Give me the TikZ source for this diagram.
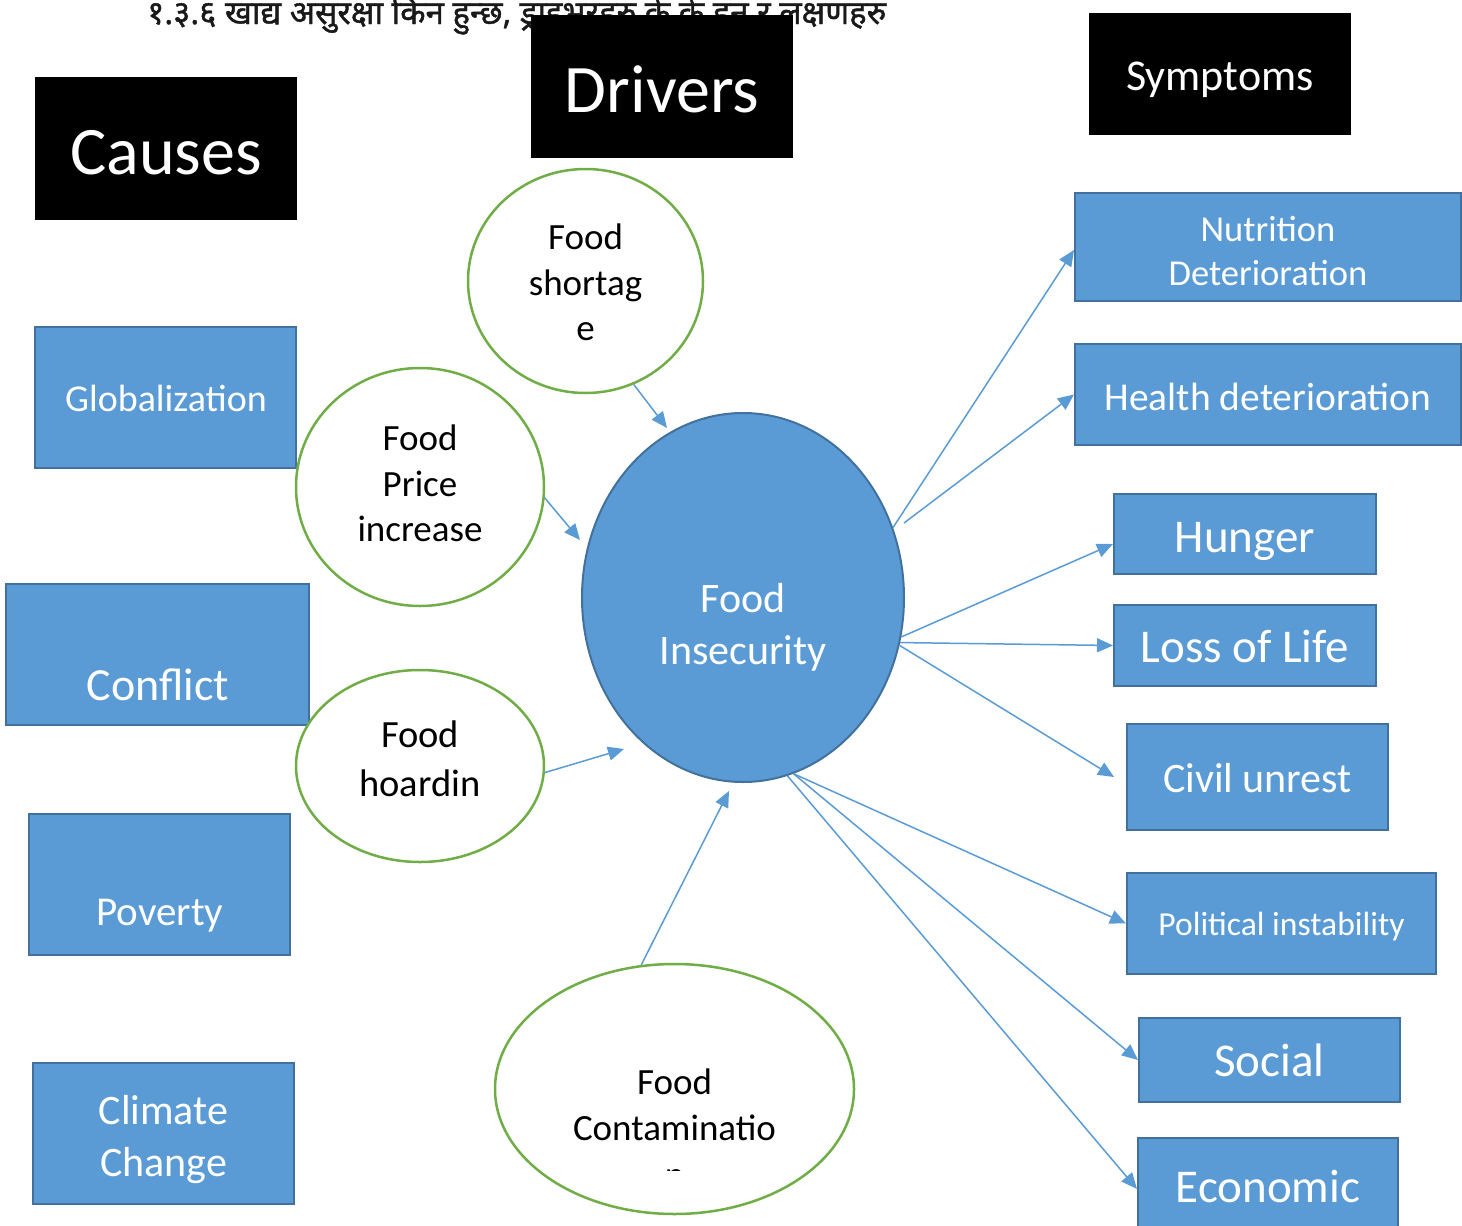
\documentclass[tikz,border=0pt]{standalone}
\usepackage{fontspec}
\setmainfont{Carlito}
\newfontfamily\devfont[Script=Devanagari,FakeBold=1.2]{Noto Sans}
\usetikzlibrary{shapes.geometric,arrows.meta}
\definecolor{cblue}{HTML}{5B9BD5}
\definecolor{cborder}{HTML}{41719C}
\definecolor{cgreen}{HTML}{70AD47}
\newcommand{\fs}[1]{\fontsize{#1}{#1}\selectfont}
\begin{document}
\begin{tikzpicture}[x=1pt,y=-1pt,
  blackbox/.style={fill=black, draw=none, inner sep=0},
  bluebox/.style={fill=cblue, draw=cborder, line width=2pt, inner sep=0},
  driver/.style={ellipse, draw=cgreen, line width=2.5pt, fill=white, inner sep=0},
  wtxt/.style={text=white, inner sep=0, anchor=base},
  btxt/.style={text=black, inner sep=0, anchor=base},
  arr/.style={draw=cblue, line width=1.5pt, -{Triangle[length=16pt,width=14pt]}},
]
\useasboundingbox (0,0) rectangle (1462,1226);

% header text (partly hidden)
\node[anchor=base west, inner sep=0, font=\devfont\fs{33}, text=black!90] (title) at (147,24)
  {१.३.६ खाद्य असुरक्षा किन हुन्छ, ड्राइभरहरु के के हुन र लक्षणहरु};

% black headers
\node[blackbox, minimum width=262pt, minimum height=143pt] (caus) at (166,148.5) {};
\node[wtxt, font=\fs{68}] (caust) at (166,174) {Causes};
\node[blackbox, minimum width=262pt, minimum height=143pt] (drv) at (662,86.5) {};
\node[wtxt, font=\fs{68}] (drvt) at (662,112) {Drivers};
\node[blackbox, minimum width=262pt, minimum height=122pt] (sym) at (1220,74) {};
\node[wtxt, font=\fs{44}] (symt) at (1220,90) {Symptoms};

% causes
\node[bluebox, minimum width=261pt, minimum height=141pt] (glob) at (165.5,397.5) {};
\node[wtxt, font=\fs{38}] (globt) at (166,411) {Globalization};
\node[bluebox, minimum width=303pt, minimum height=141pt] (conf) at (157.5,654.5) {};
\node[wtxt, font=\fs{46}] (conft) at (158,700) {Conflict};
\node[bluebox, minimum width=261pt, minimum height=141pt] (pov) at (159.5,884.5) {};
\node[wtxt, font=\fs{41}] (povt) at (160,925) {Poverty};
\node[bluebox, minimum width=261pt, minimum height=141pt] (clim) at (163.5,1133.5) {};
\node[wtxt, font=\fs{42}] (climt1) at (163.5,1124) {Climate};
\node[wtxt, font=\fs{42}] (climt2) at (163.5,1176) {Change};

% symptoms
\node[bluebox, minimum width=386pt, minimum height=108pt] (nut) at (1268,247) {};
\node[wtxt, font=\fs{36.5}] (nutt1) at (1268,241) {Nutrition};
\node[wtxt, font=\fs{36.5}] (nutt2) at (1268,285) {Deterioration};
\node[bluebox, minimum width=386pt, minimum height=101pt] (hea) at (1268,394.5) {};
\node[wtxt, font=\fs{39.5}] (heat) at (1268,410) {Health deterioration};
\node[bluebox, minimum width=262pt, minimum height=80pt] (hun) at (1245,534) {};
\node[wtxt, font=\fs{47}] (hunt) at (1245,552) {Hunger};
\node[bluebox, minimum width=262pt, minimum height=81pt] (los) at (1245,645.5) {};
\node[wtxt, font=\fs{47}] (lost) at (1245,662) {Loss of Life};
\node[bluebox, minimum width=261pt, minimum height=106pt] (civ) at (1257.5,777) {};
\node[wtxt, font=\fs{42}] (civt) at (1257.5,792) {Civil unrest};
\node[bluebox, minimum width=309pt, minimum height=101pt] (pol) at (1281.5,923.5) {};
\node[wtxt, font=\fs{33.6}] (polt) at (1281.5,935) {Political instability};
\node[bluebox, minimum width=261pt, minimum height=84pt] (soc) at (1269.5,1060) {};
\node[wtxt, font=\fs{47}] (soct) at (1269.5,1076) {Social};
\node[bluebox, minimum width=260pt, minimum height=102pt] (eco) at (1268,1189) {};
\node[wtxt, font=\fs{47}] (ecot) at (1268,1202) {Economic};

% drivers
\node[driver, minimum width=235pt, minimum height=224pt] (short) at (585.5,281) {};
\node[btxt, font=\fs{37}] (shortt1) at (585.5,249) {Food};
\node[btxt, font=\fs{37}] (shortt2) at (585.5,295) {shortag};
\node[btxt, font=\fs{37}] (shortt3) at (585.5,340) {e};
\node[driver, minimum width=248pt, minimum height=238pt] (price) at (420,487) {};
\node[btxt, font=\fs{37}] (pricet1) at (420,450) {Food};
\node[btxt, font=\fs{37}] (pricet2) at (420,496) {Price};
\node[btxt, font=\fs{37}] (pricet3) at (420,541) {increase};
\node[driver, minimum width=248pt, minimum height=192pt] (hoard) at (420,766) {};
\node[btxt, font=\fs{38.5}] (hoardt1) at (420,747) {Food};
\node[btxt, font=\fs{38.5}] (hoardt2) at (420,796) {hoardin};
\node[driver, minimum width=359pt, minimum height=250pt] (contam) at (674.5,1089) {};
\node[btxt, font=\fs{37}] (contamt1) at (674.5,1094) {Food};
\node[btxt, font=\fs{37}] (contamt2) at (674.5,1140) {Contaminatio};
\begin{scope}
  \clip (560,1150) rectangle (800,1170);
  \node[btxt, font=\fs{37}] (contamt3) at (674.5,1187) {n};
\end{scope}

% central node
\node[ellipse, fill=cblue, draw=cborder, line width=2pt, inner sep=0,
      minimum width=322pt, minimum height=369pt] (ins) at (743,597.5) {};
\node[wtxt, font=\fs{42}] (inst1) at (743,612) {Food};
\node[wtxt, font=\fs{42}] (inst2) at (743,664) {Insecurity};

% free ends
\coordinate (tipS) at (667,428);
\coordinate (tipP) at (580,540);
\coordinate (tipH) at (624,749);
\coordinate (tipC) at (729,791);
\coordinate (heaS) at (904,523);
\coordinate (tipCv) at (1114,777);

% arrows
\draw[arr] (short.-65) -- (tipS);
\draw[arr] (price.-5) -- (tipP);
\draw[arr] (hoard.-3) -- (tipH);
\draw[arr] (contam.105.5) -- (tipC);
\draw[arr] (ins.25) -- ([yshift=-3pt]nut.west);
\draw[arr] (heaS) -- (hea.west);
\draw[arr] (ins.-14) -- ([yshift=-10pt]hun.west);
\draw[arr] (ins.-16.7) -- (los.west);
\draw[arr] (ins.-17) -- (tipCv);
\draw[arr] (ins.-74.4) -- (pol.west);
\draw[arr] (ins.-74) -- (soc.west);
\draw[arr] (ins.-76) -- (eco.west);
\end{tikzpicture}
\end{document}
